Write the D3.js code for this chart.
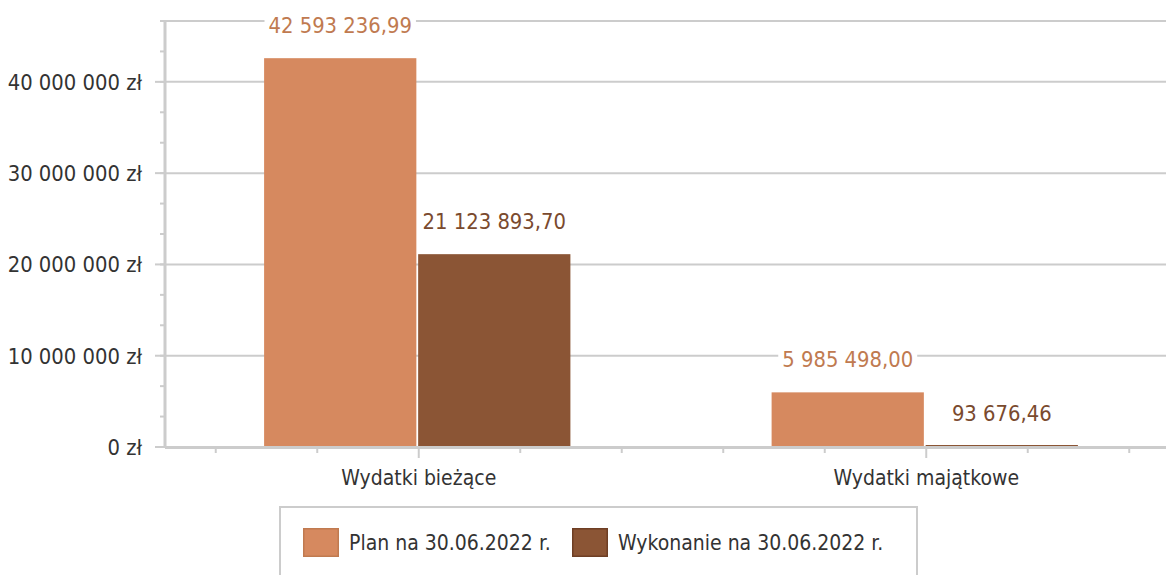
<!DOCTYPE html>
<html>
<head>
<meta charset="utf-8">
<script src="https://cdn.jsdelivr.net/npm/d3@7"></script>
<style>
  html, body { margin: 0; padding: 0; background: #fff; }
  svg { display: block; }
  text { font-family: "DejaVu Sans Condensed", "DejaVu Sans", sans-serif; font-stretch: condensed; }
</style>
</head>
<body>
<svg id="chart" width="1166" height="575"></svg>
<script>
const categories = ["Wydatki bieżące", "Wydatki majątkowe"];
const seriesNames = ["Plan na 30.06.2022 r.", "Wykonanie na 30.06.2022 r."];
const planValues = [42593236.99, 5985498.00];
const wykonanieValues = [21123893.70, 93676.46];
const yTickValues = [0, 10000000, 20000000, 30000000, 40000000];
const yTickLabels = ["0 zł", "10 000 000 zł", "20 000 000 zł", "30 000 000 zł", "40 000 000 zł"];
const yMax = 140000000 / 3;

const colors = ["#D6895F", "#8B5535"];
const labelColors = ["#C07A50", "#7A4A2E"];
const swatchStroke = ["#C07A50", "#6E3F25"];
const series = [planValues, wykonanieValues];

const svg = d3.select("#chart");
const pLeft = 165, pRight = 1180, pTop = 21, pBottom = 447;

const y = d3.scaleLinear().domain([0, yMax]).range([pBottom, pTop]);
const x = d3.scaleBand().domain(categories).range([pLeft, pRight]).padding(0);
const xIdx = d3.scaleLinear().domain([-0.5, categories.length - 0.5]).range([pLeft, pRight]);
const grid = "#cccccc";
const textColor = "#333333";
const fs = 21, fsNum = 21.8;

// gridlines
const gridVals = yTickValues.slice(1).concat([yMax]);
svg.append("g").selectAll("line").data(gridVals).join("line")
  .attr("x1", pLeft).attr("x2", pRight)
  .attr("y1", d => y(d)).attr("y2", d => y(d))
  .attr("stroke", grid).attr("stroke-width", 2);

// y axis minor ticks
const minorY = d3.range(0, 15).map(i => i * 10000000 / 3);
svg.append("g").selectAll("line").data(minorY).join("line")
  .attr("x1", pLeft - 5).attr("x2", pLeft)
  .attr("y1", d => y(d)).attr("y2", d => y(d))
  .attr("stroke", grid).attr("stroke-width", 2);
// y major ticks
svg.append("g").selectAll("line").data(yTickValues).join("line")
  .attr("x1", pLeft - 10).attr("x2", pLeft)
  .attr("y1", d => y(d)).attr("y2", d => y(d))
  .attr("stroke", grid).attr("stroke-width", 2);
// y labels
svg.append("g").selectAll("text").data(yTickValues).join("text")
  .attr("x", pLeft - 23).attr("y", d => y(d)).attr("dy", "0.36em")
  .attr("text-anchor", "end").attr("fill", textColor).attr("font-size", fsNum)
  .text((d, i) => yTickLabels[i]);

// bars
const bw = x.bandwidth() * 0.3;
const barG = svg.append("g");
const barX = (s, i) => {
  const c = x(categories[i]) + x.bandwidth() / 2;
  return s === 0 ? c - bw - 2.4 : c - 0.6;
};
series.forEach((vals, s) => {
  barG.selectAll(null).data(vals).join("rect")
    .attr("x", (d, i) => barX(s, i))
    .attr("y", d => Math.min(y(d), pBottom - 2))
    .attr("width", bw)
    .attr("height", d => Math.max(pBottom - y(d), 2))
    .attr("fill", colors[s]);
});

// axes lines
svg.append("line").attr("x1", pLeft).attr("x2", pLeft).attr("y1", pTop - 1).attr("y2", pBottom + 1)
  .attr("stroke", grid).attr("stroke-width", 3);
svg.append("line").attr("x1", pLeft).attr("x2", pRight).attr("y1", pBottom + 0.5).attr("y2", pBottom + 0.5)
  .attr("stroke", grid).attr("stroke-width", 3);

// x ticks
const minorX = d3.range(-4, 15).map(i => -0.5 + 0.1 + i * 0.2).filter(v => v > -0.5 && v < 1.5);
svg.append("g").selectAll("line").data(minorX).join("line")
  .attr("x1", d => xIdx(d)).attr("x2", d => xIdx(d))
  .attr("y1", pBottom).attr("y2", d => Math.abs(d - Math.round(d)) < 1e-6 ? pBottom + 11 : pBottom + 6)
  .attr("stroke", grid).attr("stroke-width", 2);

// category labels
svg.append("g").selectAll("text").data(categories).join("text")
  .attr("x", d => x(d) + x.bandwidth() / 2).attr("y", 485)
  .attr("text-anchor", "middle").attr("fill", textColor).attr("font-size", fs)
  .text(d => d);

// value labels
const fmt = v => {
  const parts = v.toFixed(2).split(".");
  return parts[0].replace(/\B(?=(\d{3})+(?!\d))/g, " ") + "," + parts[1];
};
const lblG = svg.append("g");
series.forEach((vals, s) => {
  vals.forEach((v, i) => {
    const cx = barX(s, i) + bw / 2;
    const g = lblG.append("g");
    const t = g.append("text")
      .attr("x", cx).attr("y", y(v) - 25)
      .attr("text-anchor", "middle").attr("fill", labelColors[s]).attr("font-size", fsNum)
      .text(fmt(v));
    const bb = t.node().getBBox();
    g.insert("rect", "text")
      .attr("x", bb.x - 4).attr("y", bb.y).attr("width", bb.width + 8).attr("height", bb.height)
      .attr("fill", "#fff");
  });
});

// legend
const lg = svg.append("g");
lg.append("rect").attr("x", 280).attr("y", 507).attr("width", 637).attr("height", 80)
  .attr("fill", "#fff").attr("stroke", grid).attr("stroke-width", 2);
const legX = [303, 572];
seriesNames.forEach((n, s) => {
  lg.append("rect").attr("x", legX[s] + 0.75).attr("y", 528.75).attr("width", 34.5).attr("height", 27.5)
    .attr("fill", colors[s]).attr("stroke", swatchStroke[s]).attr("stroke-width", 1.5);
  lg.append("text").attr("x", legX[s] + 46).attr("y", 550)
    .attr("fill", textColor).attr("font-size", fs).text(n);
});
</script>
</body>
</html>
